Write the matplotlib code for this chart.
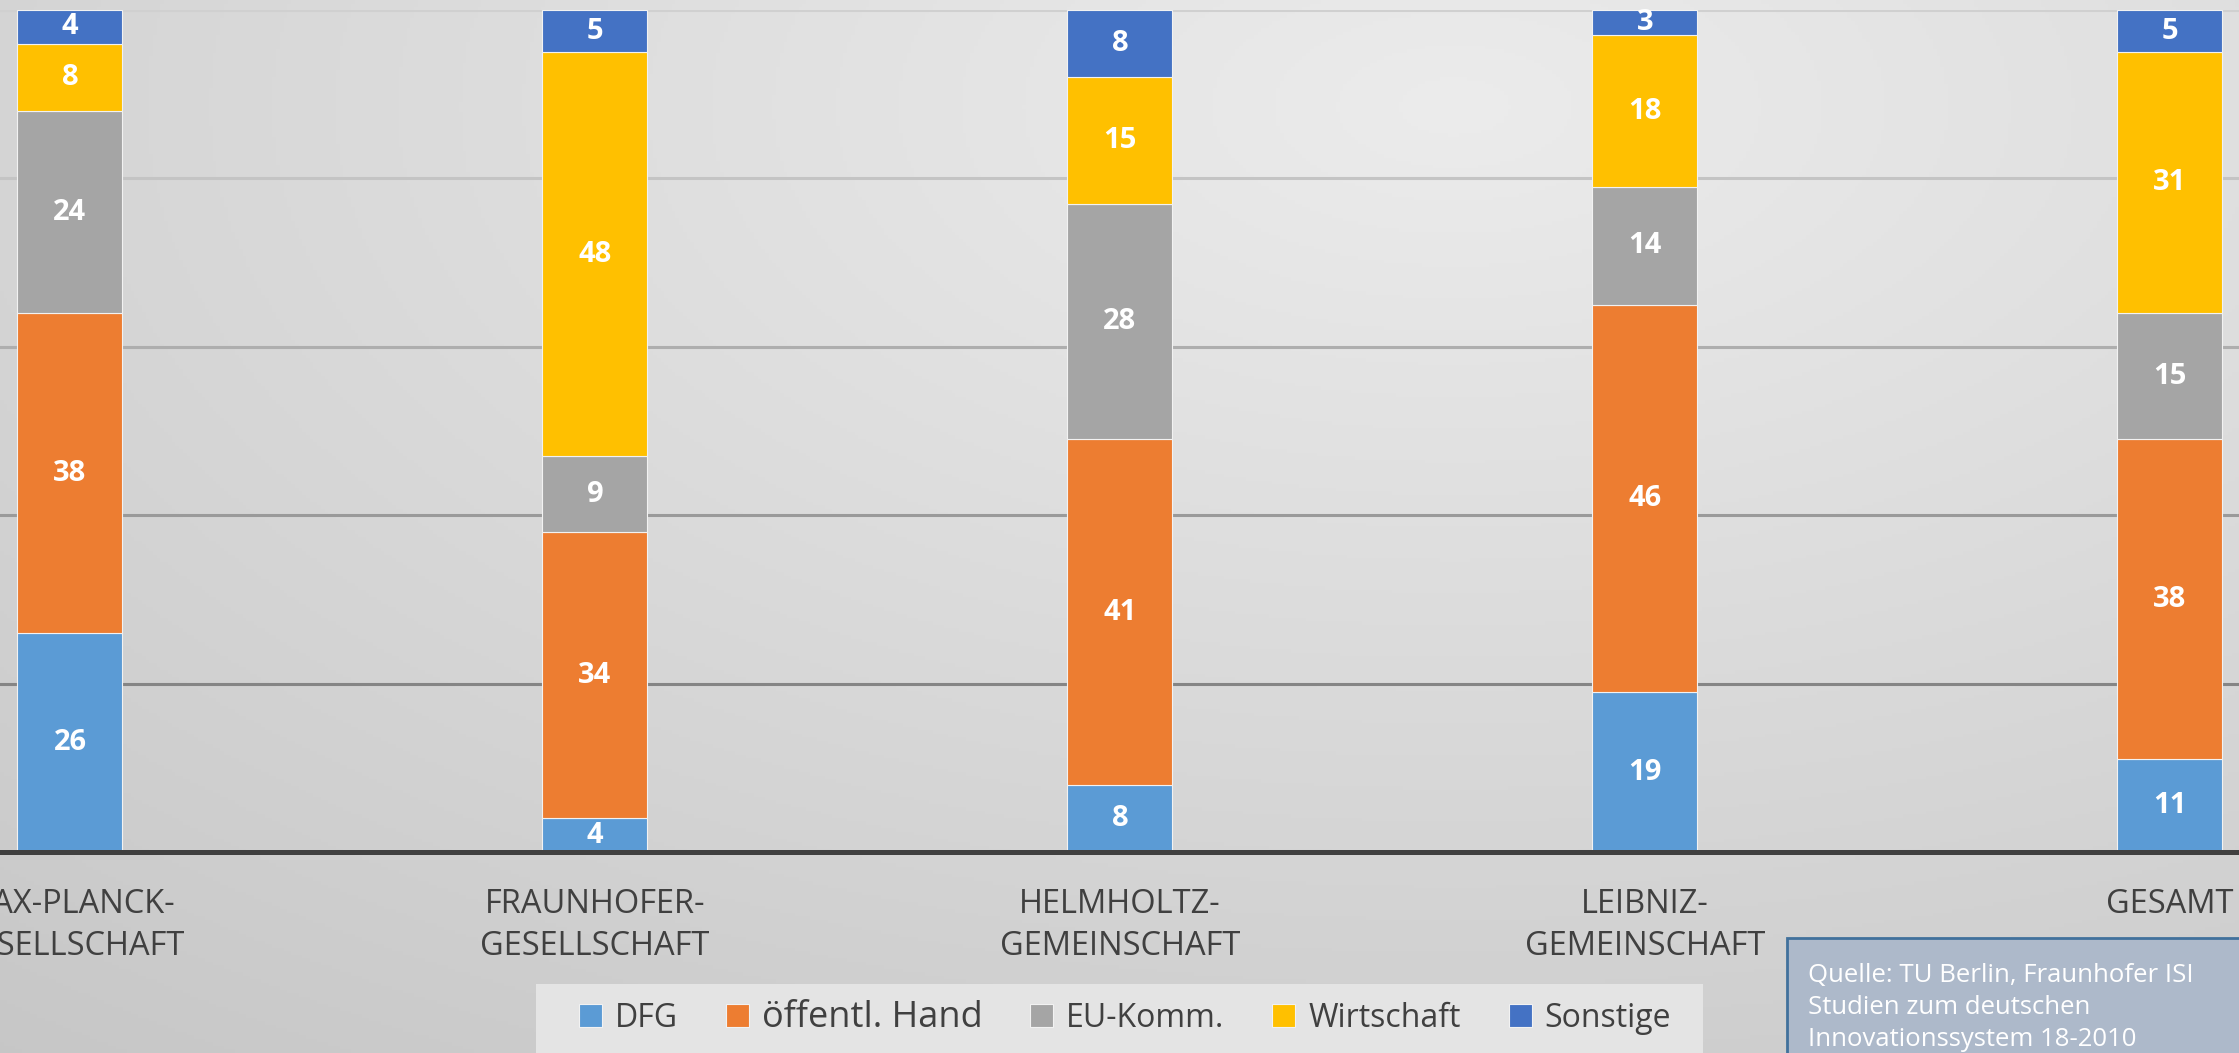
import numpy as np
import matplotlib
matplotlib.use('Agg')
import matplotlib.pyplot as plt
from matplotlib.patches import Rectangle

plt.rcParams['font.family'] = ['Open Sans', 'DejaVu Sans']

# Finanzierungsanteile (%) nach Forschungsorganisation
categories = ['MAX-PLANCK-\nGESELLSCHAFT', 'FRAUNHOFER-\nGESELLSCHAFT',
              'HELMHOLTZ-\nGEMEINSCHAFT', 'LEIBNIZ-\nGEMEINSCHAFT', 'GESAMT']
series = ['DFG', 'öffentl. Hand', 'EU-Komm.', 'Wirtschaft', 'Sonstige']
dfg = [26, 4, 8, 19, 11]
oeffentl = [38, 34, 41, 46, 38]
eu_komm = [24, 9, 28, 14, 15]
wirtschaft = [8, 48, 15, 18, 31]
sonstige = [4, 5, 8, 3, 5]
colors = ['#5b9bd5', '#ed7d31', '#a5a5a5', '#ffc000', '#4472c4']
yticks = [0, 20, 40, 60, 80, 100]
grid_colors = ['#8a8a8a', '#858585', '#9a9a9a', '#aeaeae', '#c4c4c4', '#d0d0d0']
source = ['Quelle: TU Berlin, Fraunhofer ISI', 'Studien zum deutschen',
          'Innovationssystem 18-2010']

W, H = 2239, 1053
fig = plt.figure(figsize=(W / 100, H / 100), dpi=100)

# gray gradient background
bg = fig.add_axes([0, 0, 1, 1], zorder=-2)
yy, xx = np.mgrid[0:1:300j, 0:1:600j]
dist = np.sqrt((xx - 0.65) ** 2 + ((yy - 0.1) * 0.9) ** 2)
shade = np.clip(0.925 - 0.14 * dist, 0, 1)
bg.imshow(np.dstack([shade] * 3), extent=[0, 1, 0, 1], origin='upper', aspect='auto')
bg.set_axis_off()

# legend backdrop
fig.patches.append(Rectangle((536 / W, 0), (1703 - 536) / W, (1053 - 984) / H,
                             transform=fig.transFigure, facecolor='#e4e4e4',
                             edgecolor='none', zorder=-1))

ax = fig.add_axes([0, 1 - 852 / H, 1, 842 / H])
ax.set_facecolor('none')
x = np.arange(len(categories))
bottom = np.zeros(len(categories))
for name, vals, c in zip(series, [dfg, oeffentl, eu_komm, wirtschaft, sonstige], colors):
    bars = ax.bar(x, vals, 0.2, bottom=bottom, color=c, edgecolor='#f2f2f2',
                  linewidth=0.8, label=name, zorder=3)
    ax.bar_label(bars, labels=[str(v) for v in vals], label_type='center',
                 color='white', fontweight='bold', fontsize=21, zorder=4)
    bottom += np.array(vals)

ax.set_xlim(-70 / 525, (W - 70) / 525)
ax.set_ylim(0, 100)
ax.set_yticks(yticks)
ax.yaxis.grid(True, linewidth=2.2, zorder=1)
for gl, gc in zip(ax.get_ygridlines(), grid_colors):
    gl.set_color(gc)
ax.tick_params(axis='y', length=0, labelleft=False)
ax.set_xticks(x, categories)
ax.tick_params(axis='x', length=0, pad=26, labelsize=23.5, labelcolor='#404040')
for lbl in ax.get_xticklabels():
    lbl.set_linespacing(1.34)
for s in ['top', 'left', 'right']:
    ax.spines[s].set_visible(False)
ax.spines['bottom'].set_color('#404040')
ax.spines['bottom'].set_linewidth(3.6)
ax.spines['bottom'].set_zorder(5)

# legend
leg = ax.legend(loc='center', bbox_to_anchor=(1125 / W, 1 - 1018 / H),
                bbox_transform=fig.transFigure, ncol=5, frameon=False,
                fontsize=23, handlelength=0.72, handleheight=0.72,
                handletextpad=0.4, columnspacing=1.5, labelcolor='#404040')
leg.get_texts()[1].set_fontsize(26)

# source box
fig.patches.append(Rectangle((1787 / W, -0.01), 0.25, 0.01 + (1053 - 938) / H,
                             transform=fig.transFigure, facecolor='#adb9ca',
                             edgecolor='#41719c', linewidth=2, zorder=10))
for i, line in enumerate(source):
    fig.text(1808 / W, 1 - (976 + 31.5 * i) / H, line, color='white',
             fontsize=18.5, va='center', ha='left', zorder=11)

fig.savefig('out.png', dpi=100)
